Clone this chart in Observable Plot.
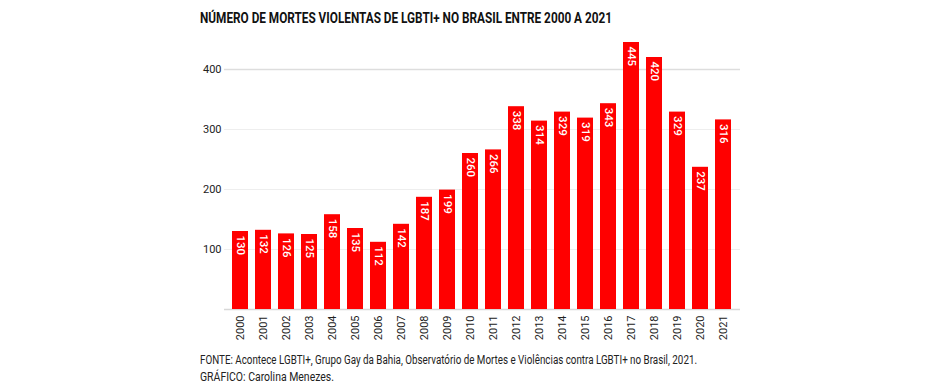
<!DOCTYPE html>
<html>
<head>
<meta charset="utf-8">
<script src="https://cdn.jsdelivr.net/npm/d3@7"></script>
<script src="https://cdn.jsdelivr.net/npm/@observablehq/plot@0.6"></script>
<style>
  body { margin: 0; background: #fff; width: 940px; height: 391px; position: relative; overflow: hidden; font-family: Roboto, "Noto Sans", sans-serif; }
  .fit { position: absolute; left: 200px; white-space: nowrap; transform-origin: 0 0; display: inline-block; }
  #title { top: 9px; font-size: 15px; font-weight: bold; color: #111; }
  #cap1 { top: 353px; font-size: 12px; color: #222; }
  #cap2 { top: 370px; font-size: 12px; color: #222; }
  #chart { position: absolute; left: 0; top: 30px; }
</style>
</head>
<body>
<div id="title" class="fit" data-w="412">NÚMERO DE MORTES VIOLENTAS DE LGBTI+ NO BRASIL ENTRE 2000 A 2021</div>
<div id="chart"></div>
<div id="cap1" class="fit" data-w="497">FONTE: Acontece LGBTI+, Grupo Gay da Bahia, Observatório de Mortes e Violências contra LGBTI+ no Brasil, 2021.</div>
<div id="cap2" class="fit" data-w="134">GRÁFICO: Carolina Menezes.</div>
<script>
const years = ["2000","2001","2002","2003","2004","2005","2006","2007","2008","2009","2010","2011","2012","2013","2014","2015","2016","2017","2018","2019","2020","2021"];
const deaths = [130,132,126,125,158,135,112,142,187,199,260,266,338,314,329,319,343,445,420,329,237,316];
const yTicks = [100,200,300,400];

const data = years.map((y, i) => ({year: y, value: deaths[i]}));

const chart = Plot.plot({
  width: 940,
  height: 315,
  marginLeft: 224,
  marginRight: 200,
  marginTop: 9,
  marginBottom: 36,
  style: {fontFamily: 'Roboto, "Noto Sans", sans-serif', fontSize: "11px", color: "#222", background: "#fff"},
  x: {domain: years, paddingInner: 0.3, paddingOuter: 0.12, label: null},
  y: {domain: [0, 450], label: null},
  marks: [
    Plot.ruleY(yTicks.filter(t => t !== 400), {stroke: "#eeeeee", strokeWidth: 1}),
    Plot.ruleY([400], {stroke: "#dddddd", strokeWidth: 1.5}),
    Plot.ruleY([0], {stroke: "#d8d8d8", strokeWidth: 1.5}),
    Plot.axisY({ticks: yTicks, tickSize: 0, tickPadding: 3, label: null, fontSize: 11}),
    Plot.axisX({tickSize: 0, tickPadding: 6, tickRotate: -90, label: null, fontSize: 11}),
    Plot.barY(data, {x: "year", y: "value", fill: "#ff0000"}),
    Plot.text(data, {x: "year", y: "value", text: d => String(d.value), rotate: 90, textAnchor: "start", lineAnchor: "middle", dy: 4, fill: "#fff", fontSize: 11.5, fontWeight: 500})
  ]
});
document.getElementById("chart").appendChild(chart);

document.querySelectorAll(".fit").forEach(el => {
  const w = el.getBoundingClientRect().width;
  const target = +el.dataset.w;
  el.style.transform = `scaleX(${target / w})`;
});
</script>
</body>
</html>
